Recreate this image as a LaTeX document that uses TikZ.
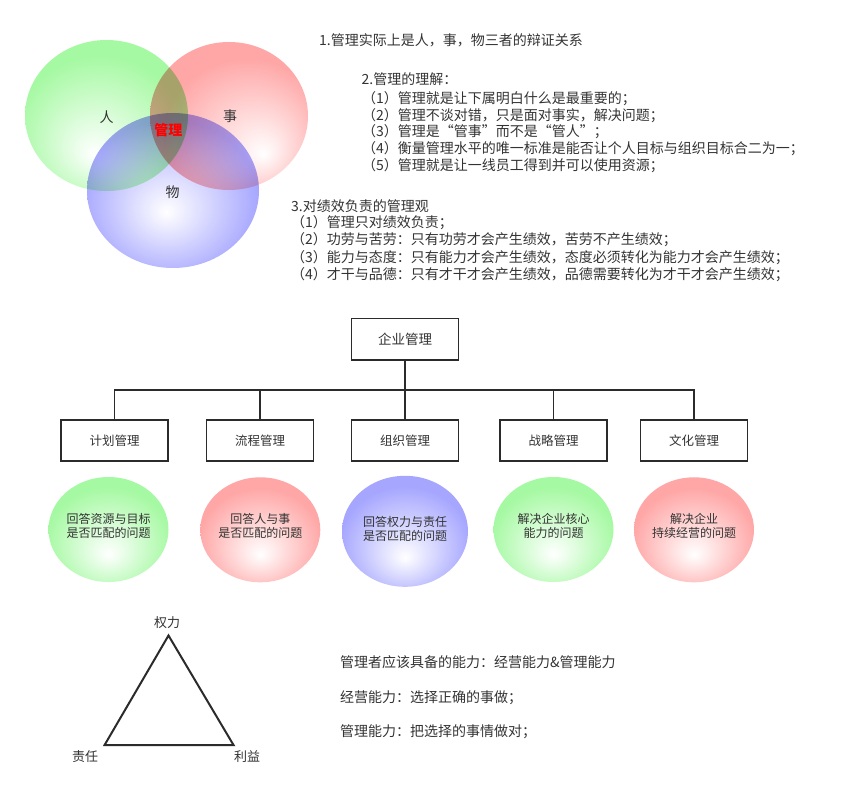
\documentclass[tikz,border=0pt]{standalone}
\usepackage{fontspec}
\newfontfamily\cjk{Noto Sans CJK SC}
\usetikzlibrary{shapes.geometric,calc}
\definecolor{txt}{HTML}{333333}
\definecolor{ln}{HTML}{2B2B2B}
\definecolor{gfill}{HTML}{A6F9A3}
\definecolor{rfill}{HTML}{FFA6A6}
\definecolor{bfill}{HTML}{A6A6FF}
\definecolor{lblred}{HTML}{FF0000}
\pgfdeclareradialshading{vennG}{\pgfpoint{-4bp}{-13bp}}{color(0bp)=(white); color(26bp)=(gfill); color(50bp)=(gfill)}
\pgfdeclareradialshading{vennR}{\pgfpoint{11bp}{-13bp}}{color(0bp)=(white); color(26bp)=(rfill); color(50bp)=(rfill)}
\pgfdeclareradialshading{vennB}{\pgfpoint{-2bp}{-7bp}}{color(0bp)=(white); color(26bp)=(bfill); color(50bp)=(bfill)}
\pgfdeclareradialshading{ocG}{\pgfpoint{0bp}{-12bp}}{color(0bp)=(white); color(26bp)=(gfill); color(50bp)=(gfill)}
\pgfdeclareradialshading{ocR}{\pgfpoint{0bp}{-12bp}}{color(0bp)=(white); color(26bp)=(rfill); color(50bp)=(rfill)}
\pgfdeclareradialshading{ocB}{\pgfpoint{0bp}{-12bp}}{color(0bp)=(white); color(26bp)=(bfill); color(50bp)=(bfill)}
\tikzset{
  tx/.style={font=\cjk\fontsize{14}{17}\selectfont, text=txt, inner sep=0pt, anchor=base west},
  lbl/.style={font=\cjk\fontsize{14}{17}\selectfont, text=txt, inner sep=0pt},
  boxnode/.style={draw=ln, line width=1.6pt, fill=white, minimum width=107pt, minimum height=41.5pt, inner sep=0pt, text=txt},
  conn/.style={draw=ln, line width=1.6pt},
  oc/.style={ellipse, shade, draw=none, minimum width=120pt, minimum height=105pt, inner sep=0pt},
  octext/.style={font=\cjk\fontsize{12}{14}\selectfont, text=txt, inner sep=0pt, align=center},
  tri/.style={draw=ln, line width=2pt, line join=miter},
}
\begin{document}
\begin{tikzpicture}[x=1pt,y=-1pt]
\useasboundingbox (0,0) rectangle (862,792);
% Venn
\begin{scope}[blend mode=multiply]
\shade[shading=vennG] (106.5,115.5) ellipse [x radius=81.5, y radius=75.5];
\shade[shading=vennR] (229,116) ellipse [x radius=79, y radius=74];
\shade[shading=vennB] (173,190.5) ellipse [x radius=86, y radius=77.5];
\end{scope}
\node[lbl] (ren) at (106.7,117.3) {人};
\node[lbl] (shi) at (230,116.7) {事};
\node[lbl] (wu) at (172.7,192.3) {物};
\node[lbl, text=lblred, font=\cjk\fontsize{14}{17}\selectfont\bfseries] (gl) at (168.3,130) {管理};
% text block 1
\node[tx] (t1) at (319,46) {1.管理实际上是人，事，物三者的辩证关系};
% text block 2
\node[tx] (t2) at (361.5,84.5) {2.管理的理解：};
\node[tx] (t2a) at (362,103.5) {（1）管理就是让下属明白什么是最重要的；};
\node[tx] (t2b) at (362,120.2) {（2）管理不谈对错，只是面对事实，解决问题；};
\node[tx] (t2c) at (362,136.9) {（3）管理是“管事”而不是“管人”；};
\node[tx] (t2d) at (362,153.6) {（4）衡量管理水平的唯一标准是能否让个人目标与组织目标合二为一；};
\node[tx] (t2e) at (362,170.5) {（5）管理就是让一线员工得到并可以使用资源；};
% text block 3
\node[tx] (t3) at (291,211) {3.对绩效负责的管理观};
\node[tx] (t3a) at (291,227.5) {（1）管理只对绩效负责；};
\node[tx] (t3b) at (291,244.5) {（2）功劳与苦劳：只有功劳才会产生绩效，苦劳不产生绩效；};
\node[tx] (t3c) at (291,262) {（3）能力与态度：只有能力才会产生绩效，态度必须转化为能力才会产生绩效；};
\node[tx] (t3d) at (291,279) {（4）才干与品德：只有才干才会产生绩效，品德需要转化为才干才会产生绩效；};
% org chart
\node[boxnode, font=\cjk\fontsize{13.5}{16}\selectfont] (top) at (405,339.3) {企业管理};
\node[boxnode, font=\cjk\fontsize{12.5}{15}\selectfont] (c1) at (114.5,440.5) {计划管理};
\node[boxnode, font=\cjk\fontsize{12.5}{15}\selectfont] (c2) at (260,440.5) {流程管理};
\node[boxnode, font=\cjk\fontsize{12.5}{15}\selectfont] (c3) at (405,440.5) {组织管理};
\node[boxnode, font=\cjk\fontsize{12.5}{15}\selectfont] (c4) at (553.5,440.5) {战略管理};
\node[boxnode, font=\cjk\fontsize{12.5}{15}\selectfont] (c5) at (694,440.5) {文化管理};
\coordinate (bus) at (405,390);
\draw[conn] (top.south) -- (c3.north);
\draw[conn] (bus) -| (c1.north);
\draw[conn] (bus) -| (c2.north);
\draw[conn] (bus) -| (c4.north);
\draw[conn] (bus) -| (c5.north);
% ellipses
\node[oc, shading=ocG] (e1) at (108.5,529.5) {};
\node[oc, shading=ocR] (e2) at (260.3,529.8) {};
\node[oc, shading=ocB, minimum width=126pt, minimum height=111pt] (e3) at (405,531.3) {};
\node[oc, shading=ocG] (e4) at (553.5,529.5) {};
\node[oc, shading=ocR] (e5) at (694,529.8) {};
\node[octext] (e1t) at (108.5,526.3) {回答资源与目标\\是否匹配的问题};
\node[octext] (e2t) at (260.3,526.3) {回答人与事\\是否匹配的问题};
\node[octext] (e3t) at (405,528.7) {回答权力与责任\\是否匹配的问题};
\node[octext] (e4t) at (553.5,526.3) {解决企业核心\\能力的问题};
\node[octext] (e5t) at (694,526.3) {解决企业\\持续经营的问题};
% triangle
\coordinate (ta) at (168.5,635.5);
\coordinate (tl) at (104.6,745);
\coordinate (tr) at (233.5,745);
\draw[tri] (ta) -- (tr) -- (tl) -- cycle;
\node[lbl, font=\cjk\fontsize{13}{16}\selectfont] (qli) at (167,622.5) {权力};
\node[lbl, font=\cjk\fontsize{13}{16}\selectfont] (zr) at (85,757) {责任};
\node[lbl, font=\cjk\fontsize{13}{16}\selectfont] (ly) at (247,757) {利益};
% right text
\node[tx] (r1) at (340,667) {管理者应该具备的能力：经营能力\&管理能力};
\node[tx] (r2) at (340,702.5) {经营能力：选择正确的事做；};
\node[tx] (r3) at (340,736) {管理能力：把选择的事情做对；};
\end{tikzpicture}
\end{document}
